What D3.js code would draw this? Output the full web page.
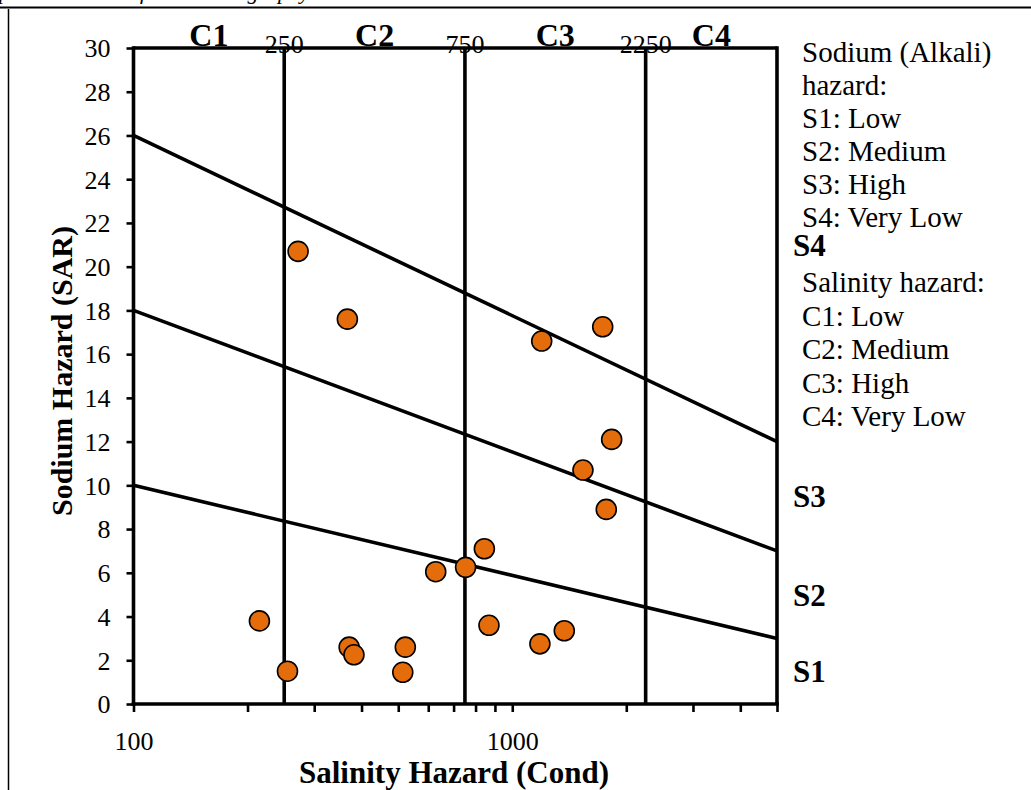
<!DOCTYPE html>
<html>
<head>
<meta charset="utf-8">
<script src="https://cdn.jsdelivr.net/npm/d3@7/dist/d3.min.js"></script>
<style>
  html, body { margin: 0; padding: 0; background: #fff; }
  svg { display: block; }
  text { font-family: "Liberation Serif", "Times New Roman", serif; fill: #000; }
</style>
</head>
<body>
<svg id="chart" width="1031" height="790"></svg>
<script>
// Conductivity (µS/cm) and sodium adsorption ratio of each sample
const conductivity = [272, 367, 215, 255, 371, 382, 522, 514, 628, 753, 844, 868, 1183, 1372, 1196, 1733, 1830, 1537, 1771];
const sar = [20.7, 17.6, 3.8, 1.5, 2.6, 2.25, 2.6, 1.45, 6.05, 6.25, 7.1, 3.6, 2.75, 3.35, 16.6, 17.25, 12.1, 10.7, 8.9];

// Salinity class boundaries and class names
const salinityBounds = [250, 750, 2250];
const salinityClasses = ["C1", "C2", "C3", "C4"];

// Sodium hazard boundary lines: SAR at the low and high conductivity ends
const sodiumLineStart = [10, 18, 26];
const sodiumLineEnd = [3, 7, 12];
const sodiumClasses = ["S1", "S2", "S3", "S4"];

// Axis ranges and ticks
const condDomain = [100, 5000];
const sarDomain = [0, 30];
const sarTicks = d3.range(0, 31, 2);
const condMajorTicks = [100, 1000];
const condMinorTicks = [200, 300, 400, 500, 600, 700, 800, 900, 2000, 3000, 4000, 5000];

// Legend text
const legendLines = [
  "Sodium (Alkali)", "hazard:", "S1: Low", "S2: Medium", "S3: High", "S4: Very Low"
];
const legendLines2 = ["Salinity hazard:", "C1: Low", "C2: Medium", "C3: High", "C4: Very Low"];

const svg = d3.select("#chart");
const plotLeft = 133.5, plotRight = 777, plotTop = 48, plotBottom = 704;

const x = d3.scaleLog().domain(condDomain).range([plotLeft, plotRight]);
const y = d3.scaleLinear().domain(sarDomain).range([plotBottom, plotTop]);

// Page frame and the caption line above it, clipped by the page top
svg.append("text")
  .attr("x", -1).attr("y", -1)
  .style("font-style", "italic").style("font-size", "22px")
  .text("plotted results of the oceanography");
svg.append("line").attr("x1", 0).attr("x2", 1031).attr("y1", 7.5).attr("y2", 7.5)
  .attr("stroke", "#000").attr("stroke-width", 2.2);
svg.append("line").attr("x1", 8.5).attr("x2", 8.5).attr("y1", 9).attr("y2", 790)
  .attr("stroke", "#000").attr("stroke-width", 1.5);

const lw = 3.6;

// Salinity class boundaries (vertical)
svg.append("g").selectAll("line").data(salinityBounds).join("line")
  .attr("x1", d => x(d)).attr("x2", d => x(d))
  .attr("y1", plotTop).attr("y2", plotBottom)
  .attr("stroke", "#000").attr("stroke-width", lw);

// Sodium hazard boundaries (diagonal)
svg.append("g").selectAll("line").data(sodiumLineStart).join("line")
  .attr("x1", x(condDomain[0])).attr("y1", d => y(d))
  .attr("x2", x(condDomain[1])).attr("y2", (d, i) => y(sodiumLineEnd[i]))
  .attr("stroke", "#000").attr("stroke-width", lw);

// Plot frame
svg.append("line").attr("x1", plotLeft).attr("x2", plotRight).attr("y1", plotTop).attr("y2", plotTop)
  .attr("stroke", "#000").attr("stroke-width", lw);
svg.append("line").attr("x1", plotRight).attr("x2", plotRight).attr("y1", plotTop - 1.8).attr("y2", plotBottom)
  .attr("stroke", "#000").attr("stroke-width", lw);

// Y axis
const yAxis = d3.axisLeft(y).tickValues(sarTicks).tickSize(7).tickPadding(16).tickFormat(d3.format("d"));
const gy = svg.append("g").attr("transform", `translate(${plotLeft},0)`).call(yAxis);
gy.select(".domain").attr("stroke-width", lw).attr("d", `M0,${plotTop - 1.8}V${plotBottom + 1.8}`);
gy.selectAll(".tick line").attr("stroke-width", 2.6);
gy.selectAll(".tick text").style("font-size", "26px").style("font-family", "Liberation Serif").attr("dy", "0.34em");

// X axis
const gx = svg.append("g").attr("transform", `translate(0,${plotBottom})`);
gx.call(d3.axisBottom(x).tickValues(condMajorTicks.concat(condMinorTicks)).tickSize(8).tickPadding(20)
  .tickFormat(d => condMajorTicks.includes(d) ? d : ""));
gx.select(".domain").attr("stroke-width", lw).attr("d", `M${plotLeft - 1.8},0H${plotRight + 1.8}`);
gx.selectAll(".tick line").attr("stroke-width", 2.6);
gx.selectAll(".tick text").style("font-size", "26px").style("font-family", "Liberation Serif");

// Axis titles
svg.append("text")
  .attr("x", 454).attr("y", 783)
  .attr("text-anchor", "middle")
  .style("font-weight", "bold").style("font-size", "31px")
  .text("Salinity Hazard (Cond)");
svg.append("text")
  .attr("transform", `translate(72,371) rotate(-90)`)
  .attr("text-anchor", "middle")
  .style("font-weight", "bold").style("font-size", "30px")
  .text("Sodium Hazard (SAR)");

// Salinity class labels and boundary values above the plot
const cEdges = [condDomain[0]].concat(salinityBounds, [condDomain[1]]);
svg.append("g").selectAll("text").data(salinityClasses).join("text")
  .attr("x", (d, i) => x(Math.sqrt(cEdges[i] * cEdges[i + 1])))
  .attr("y", 46)
  .attr("text-anchor", "middle")
  .style("font-weight", "bold").style("font-size", "32px")
  .text(d => d);
svg.append("g").selectAll("text").data(salinityBounds).join("text")
  .attr("x", d => x(d))
  .attr("y", 53)
  .attr("text-anchor", "middle")
  .style("font-size", "26px")
  .text(d => d);

// Sodium class labels centred in each band at the right edge
const sEdges = [sarDomain[0]].concat(sodiumLineEnd, [sarDomain[1]]);
svg.append("g").selectAll("text").data(sodiumClasses).join("text")
  .attr("x", 793)
  .attr("y", (d, i) => y((sEdges[i] + sEdges[i + 1]) / 2))
  .attr("dy", "0.35em")
  .style("font-weight", "bold").style("font-size", "31px")
  .text(d => d);

// Sample points
svg.append("g").selectAll("circle").data(conductivity).join("circle")
  .attr("cx", d => x(d))
  .attr("cy", (d, i) => y(sar[i]))
  .attr("r", 10)
  .attr("fill", "#E46C0A")
  .attr("stroke", "#000")
  .attr("stroke-width", 1.6);

// Legend text
svg.append("g").selectAll("text").data(legendLines).join("text")
  .attr("x", 802).attr("y", (d, i) => 62 + i * 33)
  .style("font-size", "29px")
  .text(d => d);
svg.append("g").selectAll("text").data(legendLines2).join("text")
  .attr("x", 802).attr("y", (d, i) => 292 + i * 33.6)
  .style("font-size", "29px")
  .text(d => d);
</script>
</body>
</html>
